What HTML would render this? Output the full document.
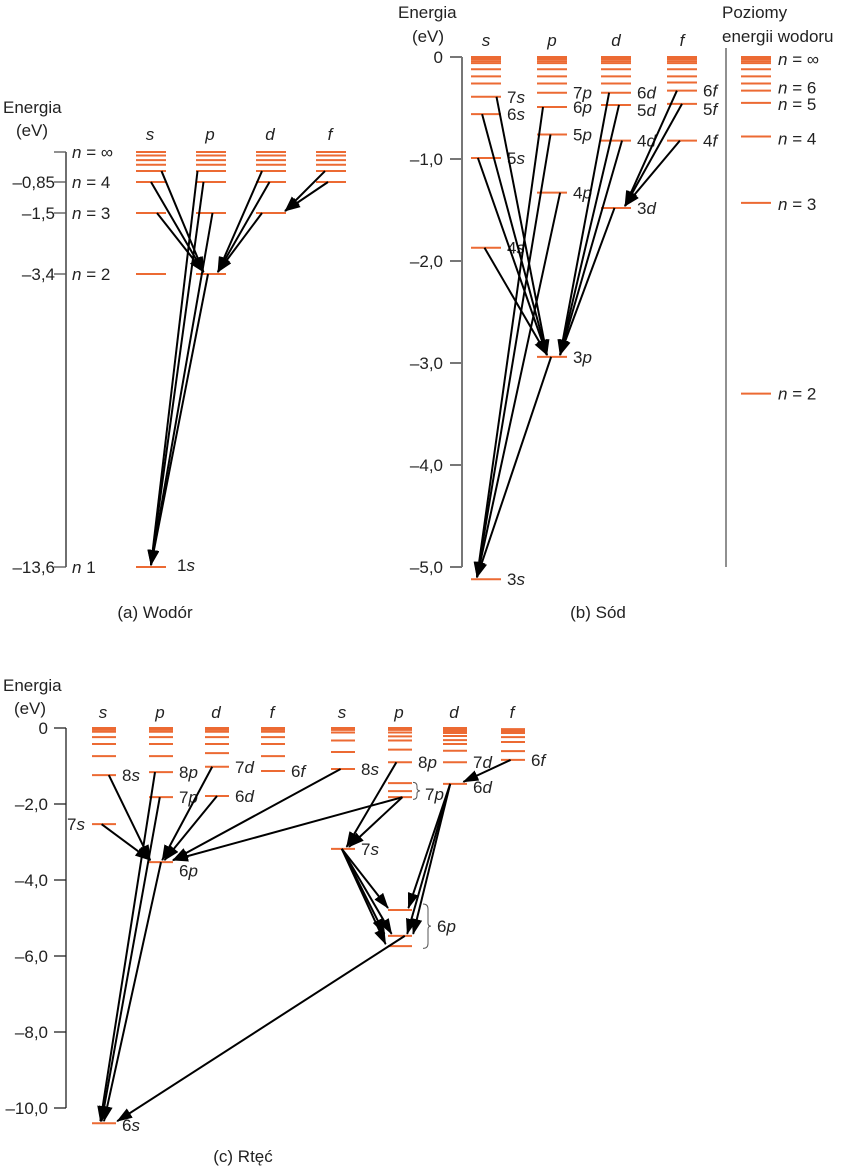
<!DOCTYPE html>
<html><head><meta charset="utf-8">
<style>
html,body{margin:0;padding:0;background:#fff;}
svg{display:block;font-family:"Liberation Sans",sans-serif;}
text{font-size:17px;fill:#222;}
.it{font-style:italic;}
</style></head>
<body>
<svg id="chart" width="848" height="1168" viewBox="0 0 848 1168" xmlns="http://www.w3.org/2000/svg">
<defs>
<marker id="ah" markerUnits="userSpaceOnUse" markerWidth="16" markerHeight="11" refX="15" refY="5.5" orient="auto">
<path d="M0,0 L16,5.5 L0,11 Z" fill="#000"/>
</marker>
</defs>
<g id="layer"></g>
</svg>
<script>
// ---------- Panel (a) Hydrogen ----------
const aTickE = [0, -0.85, -1.5, -3.4, -13.6];
const aTickLabels = ["", "–0,85", "–1,5", "–3,4", "–13,6"];
const aNLabels = ["∞", "4", "3", "2", "1"];
const aColNames = ["s", "p", "d", "f"];
const aLevelsS = [0, -0.1, -0.23, -0.36, -0.54, -0.85, -1.5, -3.4, -13.6];
const aLevelsP = [0, -0.1, -0.23, -0.36, -0.54, -0.85, -1.5, -3.4];
const aLevelsD = [0, -0.1, -0.23, -0.36, -0.54, -0.85, -1.5];
const aLevelsF = [0, -0.1, -0.23, -0.36, -0.54, -0.85];
// transitions: [fromCol, fromE, toCol, toE]
const aTrans = [
 [0,-0.54,1,-3.4],[0,-0.85,1,-3.4],[0,-1.5,1,-3.4],
 [1,-0.54,0,-13.6],[1,-0.85,0,-13.6],[1,-1.5,0,-13.6],[1,-3.4,0,-13.6],
 [2,-0.54,1,-3.4],[2,-0.85,1,-3.4],[2,-1.5,1,-3.4],
 [3,-0.54,2,-1.5],[3,-0.85,2,-1.5]
];
// ---------- Panel (b) Sodium ----------
const bTicks = [0, -1, -2, -3, -4, -5];
const bTickLabels = ["0", "–1,0", "–2,0", "–3,0", "–4,0", "–5,0"];
const bColNames = ["s", "p", "d", "f"];
const bLevelsS = [0,-0.02,-0.04,-0.06,-0.12,-0.19,-0.26,-0.39,-0.56,-0.99,-1.87,-5.12];
const bLevelsP = [0,-0.02,-0.04,-0.06,-0.12,-0.19,-0.26,-0.35,-0.49,-0.76,-1.33,-2.94];
const bLevelsD = [0,-0.02,-0.04,-0.06,-0.12,-0.19,-0.26,-0.35,-0.47,-0.82,-1.48];
const bLevelsF = [0,-0.02,-0.04,-0.06,-0.12,-0.19,-0.25,-0.33,-0.46,-0.82];
const bLevelsH = [0,-0.02,-0.04,-0.06,-0.12,-0.19,-0.26,-0.33,-0.45,-0.78,-1.43,-3.3];
const bLabelsS = [["7s",-0.39],["6s",-0.56],["5s",-0.99],["4s",-1.87],["3s",-5.12]];
const bLabelsP = [["7p",-0.35],["6p",-0.49],["5p",-0.76],["4p",-1.33],["3p",-2.94]];
const bLabelsD = [["6d",-0.35],["5d",-0.52],["4d",-0.82],["3d",-1.48]];
const bLabelsF = [["6f",-0.33],["5f",-0.51],["4f",-0.82]];
const bLabelsH = [["∞",-0.02],["6",-0.3],["5",-0.46],["4",-0.8],["3",-1.44],["2",-3.3]];
const bTrans = [
 [0,-0.39,1,-2.94],[0,-0.56,1,-2.94],[0,-0.99,1,-2.94],[0,-1.87,1,-2.94],
 [1,-0.49,0,-5.12],[1,-0.76,0,-5.12],[1,-1.33,0,-5.12],[1,-2.94,0,-5.12],
 [2,-0.35,1,-2.94],[2,-0.47,1,-2.94],[2,-0.82,1,-2.94],[2,-1.48,1,-2.94],
 [3,-0.33,2,-1.48],[3,-0.46,2,-1.48],[3,-0.82,2,-1.48]
];
// ---------- Panel (c) Mercury ----------
const cTicks = [0, -2, -4, -6, -8, -10];
const cTickLabels = ["0", "–2,0", "–4,0", "–6,0", "–8,0", "–10,0"];
const cColNames = ["s","p","d","f","s","p","d","f"];
const cLevels = [
 [0,-0.02,-0.03,-0.05,-0.1,-0.24,-0.42,-0.74,-1.24,-2.53,-10.4],
 [0,-0.02,-0.03,-0.05,-0.1,-0.24,-0.42,-0.74,-1.16,-1.82,-3.53],
 [0,-0.02,-0.03,-0.05,-0.1,-0.24,-0.42,-0.66,-1.02,-1.79],
 [0,-0.02,-0.03,-0.05,-0.1,-0.24,-0.42,-0.74,-1.13],
 [0,-0.05,-0.12,-0.33,-0.63,-1.08,-3.18],
 [0,-0.05,-0.12,-0.22,-0.33,-0.57,-0.9,-1.45,-1.66,-1.82,-4.79,-5.47,-5.74],
 [0,-0.03,-0.08,-0.13,-0.21,-0.32,-0.42,-0.6,-0.9,-1.47],
 [-0.03,-0.08,-0.13,-0.24,-0.37,-0.61,-0.84]
];
const cLabels = [
 [0,"8s",-1.24],[1,"8p",-1.16],[1,"7p",-1.82],[1,"6p",-3.75],[2,"7d",-1.02],[2,"6d",-1.79],[3,"6f",-1.13],
 [0,"6s",-10.45],[4,"8s",-1.08],[4,"7s",-3.18],[5,"8p",-0.9],[6,"7d",-0.9],[6,"6d",-1.55],[7,"6f",-0.84]
];
const cTrans = [
 [0,-1.24,1,-3.53],[0,-2.53,1,-3.53],
 [1,-1.16,0,-10.4],[1,-1.82,0,-10.4],[1,-3.53,0,-10.4],
 [2,-1.02,1,-3.53],[2,-1.79,1,-3.53],
 [4,-1.08,1,-3.53],[5,-1.82,1,-3.53],
 [5,-0.9,4,-3.18],[5,-1.82,4,-3.18],
 [4,-3.18,5,-4.79],[4,-3.18,5,-5.47],[4,-3.18,5,-5.47],[4,-3.18,5,-5.74],
 [6,-1.47,5,-4.79],[6,-1.47,5,-5.47],[6,-1.47,5,-5.47],
 [7,-0.84,6,-1.47],
 [5,-5.47,0,-10.4]
];

// ---------- layout ----------
const ORANGE = "#ec6a33";
const layer = document.getElementById('layer');
const NS = "http://www.w3.org/2000/svg";
function mk(tag, attrs, parent){ const e=document.createElementNS(NS,tag); for(const k in attrs) e.setAttribute(k,attrs[k]); (parent||layer).appendChild(e); return e; }
function txt(x,y,s,anchor,cls,name,parent){ const t=mk('text',{x:x,y:y,'text-anchor':anchor||'start'},parent); if(cls) t.setAttribute('class',cls); t.textContent=s;
 
 
 return t; }
function group(name){ const g=mk('g',{});   return g; }
function piecewise(dom, rng){ return e=>{ for(let i=0;i<dom.length-1;i++){ if(e<=dom[i] && e>=dom[i+1]){ const t=(e-dom[i])/(dom[i+1]-dom[i]); return rng[i]+t*(rng[i+1]-rng[i]); } } return rng[rng.length-1]; }; }
function linear(e0,y0,e1,y1){ return e=>y0+(e-e0)*(y1-y0)/(e1-e0); }

function drawLevels(g, levels, x0, w, ys, name){
 levels.forEach(e=>{ const l=mk('line',{x1:x0,x2:x0+w,y1:ys(e),y2:ys(e),stroke:ORANGE,'stroke-width':2},g);
  
   });
}
function drawArrows(g, trans, colX, w, ys, fromFx, toFx){
 trans.forEach((t,i)=>{
  const fx = colX[t[0]] + w*fromFx(t,i), tx = colX[t[2]] + w*toFx(t,i);
  const l=mk('line',{x1:fx,y1:ys(t[1]),x2:tx,y2:ys(t[3])-2,stroke:'#000','stroke-width':2,'marker-end':'url(#ah)'},g);
  
  
 });
}

// ===== Panel a =====
(function(){
 const g=group('panel-a-hydrogen');
 const ys = piecewise([0,-0.85,-1.5,-3.4,-13.6],[152,182,213,274,567]);
 const colX=[136,196,256,316], w=30;
 txt(3,113,"Energia","start",null,'y-axis-title',g);
 txt(32,136,"(eV)","middle",null,'y-axis-unit',g);
 mk('line',{x1:66,x2:66,y1:ys(0),y2:ys(-13.6),stroke:'#222','stroke-width':1.3},g);
 aTickE.forEach((e,i)=>{ mk('line',{x1:54,x2:66,y1:ys(e),y2:ys(e),stroke:'#555','stroke-width':1.3},g);
  txt(55,ys(e)+6,aTickLabels[i],"end",null,'y-tick-label',g);
  const t=txt(72,ys(e)+6,"","start",null,'n-label',g);
  const ti=mk('tspan',{'class':'it'},t); ti.textContent='n';
  const tt=mk('tspan',{},t); tt.textContent=(i==4?"   ":" = ")+aNLabels[i];
 });
 aColNames.forEach((c,i)=>txt(colX[i]+14,140,c,"middle","it",'column-header',g));
 [aLevelsS,aLevelsP,aLevelsD,aLevelsF].forEach((L,i)=>drawLevels(g,L,colX[i],w,ys,'energy-level'));
 const t=txt(177,571,"1","start",null,'level-label',g); const s=mk('tspan',{'class':'it'},t); s.textContent='s';
 const fromF=[[0.85,0.5,0.7],[0.05,0.25,0.55,0.4],[0.2,0.45,0.2],[0.3,0.4]];
 let cnt=[0,0,0,0];
 drawArrows(g,aTrans,colX,w,ys,(t)=>fromF[t[0]][cnt[t[0]]++], (t)=>t[0]==0?0.25:(t[0]==1?0.5:(t[0]==2?0.73:0.97)));
 txt(155,618,"(a) Wodór","middle",null,'panel-caption',g);
})();

// ===== Panel b =====
(function(){
 const g=group('panel-b-sodium');
 const ys = linear(0,57,-5,567);
 const colX=[471,537,601,667], w=30, hx=741;
 txt(398,18,"Energia","start",null,'y-axis-title',g);
 txt(428,42,"(eV)","middle",null,'y-axis-unit',g);
 mk('line',{x1:462,x2:462,y1:ys(0),y2:ys(-5),stroke:'#777','stroke-width':2},g);
 bTicks.forEach((e,i)=>{ mk('line',{x1:450,x2:462,y1:ys(e),y2:ys(e),stroke:'#777','stroke-width':2},g);
  txt(443,ys(e)+6,bTickLabels[i],"end",null,'y-tick-label',g); });
 bColNames.forEach((c,i)=>txt(colX[i]+15,46,c,"middle","it",'column-header',g));
 [bLevelsS,bLevelsP,bLevelsD,bLevelsF].forEach((L,i)=>drawLevels(g,L,colX[i],w,ys,'energy-level'));
 drawLevels(g,bLevelsH,hx,30,ys,'hydrogen-level');
 mk('line',{x1:726,x2:726,y1:48,y2:567,stroke:'#555','stroke-width':1.3},g);
 txt(722,18,"Poziomy","start",null,'hydrogen-title',g);
 txt(722,42,"energii wodoru","start",null,'hydrogen-title',g);
 [bLabelsS,bLabelsP,bLabelsD,bLabelsF].forEach((L,i)=>L.forEach(l=>{
  const t=txt(colX[i]+36,ys(l[1])+6,l[0][0],"start",null,'level-label',g);
  const s=mk('tspan',{'class':'it'},t); s.textContent=l[0].slice(1); }));
 bLabelsH.forEach(l=>{ const t=txt(778,ys(l[1])+6,"","start",null,'n-label',g);
  const a=mk('tspan',{'class':'it'},t); a.textContent='n'; const b=mk('tspan',{},t); b.textContent=' = '+l[0]; });
 const fromF=[[0.85,0.37,0.23,0.45],[0.2,0.45,0.77,0.47],[0.27,0.6,0.7,0.45],[0.33,0.5,0.43]];
 const toF=[0.33,0.2,0.77,0.8];
 let cnt=[0,0,0,0];
 drawArrows(g,bTrans,colX,w,ys,(t)=>fromF[t[0]][cnt[t[0]]++], (t)=>toF[t[0]]);
 txt(598,618,"(b) Sód","middle",null,'panel-caption',g);
})();

// ===== Panel c =====
(function(){
 const g=group('panel-c-mercury');
 const ys = linear(0,728,-10,1108);
 const colX=[92,149,205,261,331,388,443,501], w=24;
 txt(3,691,"Energia","start",null,'y-axis-title',g);
 txt(30,714,"(eV)","middle",null,'y-axis-unit',g);
 mk('line',{x1:66,x2:66,y1:ys(0),y2:ys(-10),stroke:'#222','stroke-width':1.3},g);
 cTicks.forEach((e,i)=>{ mk('line',{x1:54,x2:66,y1:ys(e),y2:ys(e),stroke:'#222','stroke-width':1.3},g);
  txt(48,ys(e)+6,cTickLabels[i],"end",null,'y-tick-label',g); });
 cColNames.forEach((c,i)=>txt(colX[i]+11,718,c,"middle","it",'column-header',g));
 cLevels.forEach((L,i)=>drawLevels(g,L,colX[i],w,ys,'energy-level'));
 cLabels.forEach(l=>{ const t=txt(colX[l[0]]+30,ys(l[2])+6,l[1][0],"start",null,'level-label',g);
  const s=mk('tspan',{'class':'it'},t); s.textContent=l[1].slice(1); });
 { const t=txt(67,ys(-2.53)+6,"7","start",null,'level-label',g); const s=mk('tspan',{'class':'it'},t); s.textContent='s'; }
 { const t=txt(425,ys(-1.66)+6+3,"7","start",null,'level-label',g); const s=mk('tspan',{'class':'it'},t); s.textContent='p';
   const b=mk('path',{d:`M413,${ys(-1.43)} q4,0 4,4 v2 q0,2 3,2.5 q-3,0.5 -3,2.5 v2 q0,4 -4,4`,fill:'none',stroke:'#555','stroke-width':1},g);
     }
 { const y0=ys(-4.63), y1=ys(-5.8), ym=(y0+y1)/2;
   const t=txt(437,ym+6,"6","start",null,'level-label',g); const s=mk('tspan',{'class':'it'},t); s.textContent='p';
   const b=mk('path',{d:`M423,${y0} q5,0 5,5 v${ym-y0-8} q0,3 3,3 q-3,0 -3,3 v${y1-ym-8} q0,5 -5,5`,fill:'none',stroke:'#555','stroke-width':1},g);
     }
 const fromF=[0.7,0.4, 0.25,0.45,0.5, 0.3,0.5, 0.4,0.6, 0.35,0.6, 0.45,0.45,0.45,0.45, 0.3,0.3,0.3, 0.4, 0.7];
 const toF  =[0.05,0.05, 0.35,0.4,0.5, 0.55,0.65, 1.0,1.0, 0.65,0.75, 0.0,0.15,-0.15,-0.1, 0.85,0.8,1.05, 0.85, 1.05];
 drawArrows(g,cTrans,colX,w,ys,(t,i)=>fromF[i],(t,i)=>toF[i]);
 txt(243,1162,"(c) Rtęć","middle",null,'panel-caption',g);
})();
</script>
</body></html>
